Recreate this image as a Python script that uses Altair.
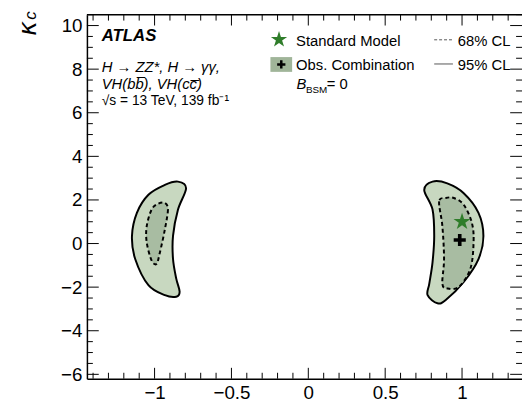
import altair as alt
import pandas as pd

# ---- data ----
left95_x = [-0.848, -0.795, -0.848, -0.880, -0.880, -0.859, -0.837, -0.859, -0.933, -1.040, -1.126, -1.147, -1.115, -1.040, -0.933]
left95_y = [2.84, 2.54, 1.55, 0.35, -0.71, -1.61, -2.21, -2.44, -2.37, -1.91, -0.71, 0.35, 1.41, 2.24, 2.69]
right95_x = [0.808, 0.754, 0.808, 0.819, 0.808, 0.787, 0.776, 0.840, 0.894, 1.011, 1.107, 1.139, 1.107, 1.011, 0.904]
right95_y = [2.84, 2.46, 1.56, 0.35, -0.86, -1.84, -2.37, -2.74, -2.59, -1.76, -0.71, 0.35, 1.41, 2.31, 2.76]
left68_x = [-0.933, -0.913, -0.933, -0.965, -0.987, -1.019, -1.051, -1.051, -1.019, -0.976]
left68_y = [1.86, 1.56, 0.65, -0.40, -0.93, -0.78, 0.05, 0.80, 1.56, 1.83]
right68_x = [0.894, 0.851, 0.872, 0.883, 0.872, 0.904, 0.979, 1.054, 1.075, 1.064, 1.011, 0.947]
right68_y = [2.09, 1.93, 0.80, -0.71, -1.84, -2.06, -1.99, -1.16, 0.05, 0.95, 1.78, 2.09]

sm_point = [1.0, 1.0]
obs_point = [0.985, 0.16]

x_major = [-1, -0.5, 0, 0.5, 1]
x_minor = [-1.4, -1.3, -1.2, -1.1, -0.9, -0.8, -0.7, -0.6, -0.4, -0.3, -0.2, -0.1,
           0.1, 0.2, 0.3, 0.4, 0.6, 0.7, 0.8, 0.9, 1.1, 1.2, 1.3]
y_major = [-6, -4, -2, 0, 2, 4, 6, 8, 10]
y_minor = [-5.5, -5, -4.5, -3.5, -3, -2.5, -1.5, -1, -0.5, 0.5, 1, 1.5, 2.5, 3, 3.5,
           4.5, 5, 5.5, 6.5, 7, 7.5, 8.5, 9, 9.5, 10.5]

texts_info = ["ATLAS", "H \u2192 ZZ*, H \u2192 \u03b3\u03b3,", "VH(bb\u0305), VH(cc\u0305)",
              "\u221as = 13 TeV, 139 fb\u207b\u00b9"]
legend_texts = ["Standard Model", "Obs. Combination", "68% CL", "95% CL"]

W, H = 441, 369
FONT = "Liberation Sans"
C95 = "#c8d8c0"
C68 = "#a8bca2"
GREEN = "#2f7d2a"

star_path = ("M0,-1L0.2245,-0.309L0.951,-0.309L0.363,0.118L0.588,0.809L0,0.382L-0.588,0.809"
             "L-0.363,0.118L-0.951,-0.309L-0.2245,-0.309Z")
cross_path = ("M-1,-0.3L-0.3,-0.3L-0.3,-1L0.3,-1L0.3,-0.3L1,-0.3L1,0.3L0.3,0.3L0.3,1"
              "L-0.3,1L-0.3,0.3L-1,0.3Z")


def contour_df(xs, ys, name):
    return pd.DataFrame({"x": xs, "y": ys, "i": list(range(len(xs))), "r": name})


df95 = pd.concat([contour_df(left95_x, left95_y, "L"), contour_df(right95_x, right95_y, "R")])
df68 = pd.concat([contour_df(left68_x, left68_y, "L"), contour_df(right68_x, right68_y, "R")])

xs = alt.Scale(domain=[-1.44, 1.39], nice=False, zero=False)
ys = alt.Scale(domain=[-6.2, 10.5], nice=False, zero=False)
xax = alt.Axis(values=x_major, format="~g", title=None)
yax = alt.Axis(values=y_major, format="d", title=None)


def X(f):
    return alt.X(f, scale=xs, axis=xax)


def Y(f):
    return alt.Y(f, scale=ys, axis=yax)


outer = alt.Chart(df95).mark_line(
    interpolate="cardinal-closed", fill=C95, stroke="black", strokeWidth=2
).encode(x=X("x:Q"), y=Y("y:Q"), detail="r:N", order="i:Q")
inner = alt.Chart(df68).mark_line(
    interpolate="cardinal-closed", fill=C68, stroke="black", strokeWidth=2, strokeDash=[4, 3]
).encode(x=X("x:Q"), y=Y("y:Q"), detail="r:N", order="i:Q")

pts = pd.DataFrame({"x": [sm_point[0]], "y": [sm_point[1]]})
star = alt.Chart(pts).mark_point(shape=star_path, filled=True, color=GREEN, size=330, opacity=1).encode(
    x=X("x:Q"), y=Y("y:Q"))
opts = pd.DataFrame({"x": [obs_point[0]], "y": [obs_point[1]]})
cross = alt.Chart(opts).mark_point(shape=cross_path, filled=True, color="black", size=150, opacity=1).encode(
    x=X("x:Q"), y=Y("y:Q"))


def xticks(vals, length):
    d = pd.DataFrame({"x": vals})
    b = alt.Chart(d).mark_rule(color="black", strokeWidth=1).encode(
        x=X("x:Q"), y=alt.value(H), y2=alt.value(H - length))
    t = alt.Chart(d).mark_rule(color="black", strokeWidth=1).encode(
        x=X("x:Q"), y=alt.value(0), y2=alt.value(length))
    return [b, t]


def yticks(vals, length):
    d = pd.DataFrame({"y": vals})
    l = alt.Chart(d).mark_rule(color="black", strokeWidth=1).encode(
        y=Y("y:Q"), x=alt.value(0), x2=alt.value(length))
    r = alt.Chart(d).mark_rule(color="black", strokeWidth=1).encode(
        y=Y("y:Q"), x=alt.value(W - length), x2=alt.value(W))
    return [l, r]


ticks = xticks(x_major, 11) + xticks(x_minor, 6) + yticks(y_major, 12) + yticks(y_minor, 6)

top_frame = alt.Chart(pts).mark_rule(color="black", strokeWidth=1.5).encode(
    x=alt.value(0), x2=alt.value(W), y=alt.value(0))


def txt(s, x, y, size=15, style="normal", weight="normal", angle=0, align="left",
        baseline="alphabetic", color="black", font=FONT):
    return alt.Chart(pts).mark_text(
        text=s, font=font, fontSize=size, fontStyle=style, fontWeight=weight, angle=angle,
        align=align, baseline=baseline, color=color
    ).encode(x=alt.value(x), y=alt.value(y))


annot = [
    txt(texts_info[0], 15, 27, size=17, style="italic", weight="bold"),
    txt(texts_info[1], 15, 58.5, size=15, style="italic"),
    txt(texts_info[2], 15, 75.5, size=15, style="italic"),
    txt(texts_info[3], 15, 91.5, size=14),
    # y axis title kappa_c
    txt("\u03ba", -60, 14, size=25, style="italic", angle=270, align="center", baseline="middle",
        font="DejaVu Sans"),
    txt("c", -57, 1, size=17, style="italic", angle=270, align="center", baseline="middle"),
    # legend
    txt(legend_texts[0], 212, 31.3),
    txt(legend_texts[1], 212, 55.7),
    txt("B", 212.5, 75.5, style="italic"),
    txt("BSM", 222, 79, size=10),
    txt("= 0", 243, 75.5),
    txt(legend_texts[2], 376, 31.3),
    txt(legend_texts[3], 376, 55.7),
]

leg_star = alt.Chart(pts).mark_point(shape=star_path, filled=True, color=GREEN, size=300, opacity=1).encode(
    x=alt.value(194.7), y=alt.value(25.3))
leg_box = alt.Chart(pts).mark_rect(color="#a0b599").encode(
    x=alt.value(186), x2=alt.value(208), y=alt.value(43), y2=alt.value(58))
leg_cross = alt.Chart(pts).mark_point(shape=cross_path, filled=True, color="black", size=70, opacity=1).encode(
    x=alt.value(197), y=alt.value(50.5))
leg_dash = alt.Chart(pts).mark_rule(color="#555555", strokeWidth=1, strokeDash=[3, 2]).encode(
    x=alt.value(352), x2=alt.value(372), y=alt.value(25.5))
leg_solid = alt.Chart(pts).mark_rule(color="#555555", strokeWidth=1).encode(
    x=alt.value(352), x2=alt.value(371), y=alt.value(50))

chart = alt.layer(
    outer, inner, star, cross, *ticks, top_frame, *annot, leg_star, leg_box, leg_cross, leg_dash, leg_solid
).properties(
    width=W, height=H,
    padding={"left": 80, "top": 4, "right": 0, "bottom": 30},
    autosize=alt.AutoSizeParams(type="none"),
).configure_view(stroke=None).configure_axis(
    labelFont=FONT, labelFontSize=19, labelColor="black", domainColor="black", domainWidth=1.5,
    ticks=False, grid=False, labelPadding=5,
).configure_axisX(labelPadding=5)

chart.save("out.html", embed_options={"renderer": "svg", "actions": False})
